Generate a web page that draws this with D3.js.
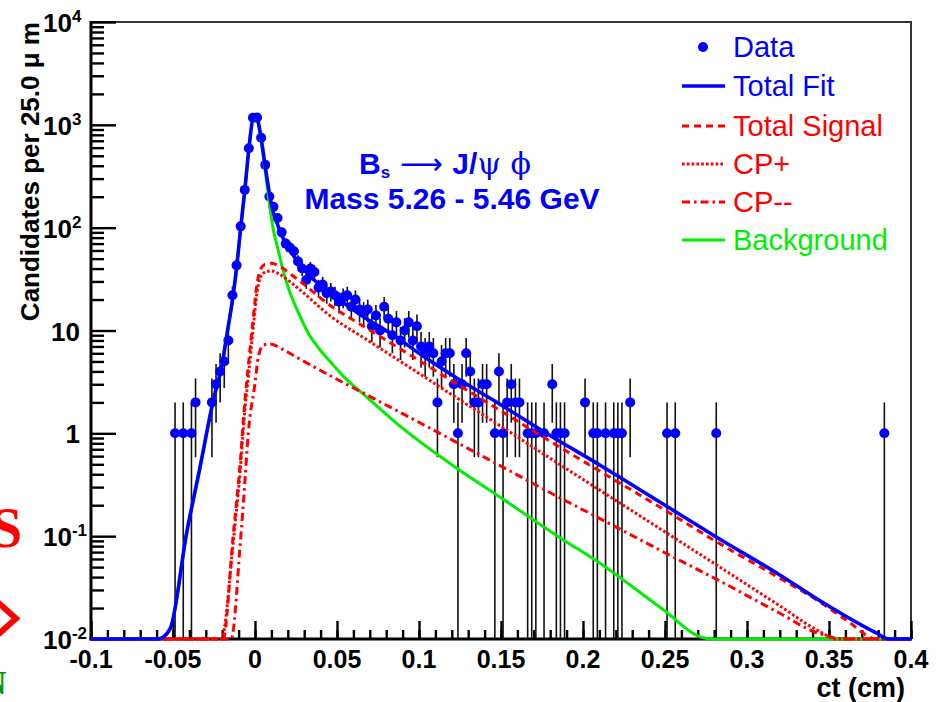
<!DOCTYPE html>
<html>
<head>
<meta charset="utf-8">
<script src="https://cdn.jsdelivr.net/npm/d3@7"></script>
<style>
  html, body { margin: 0; padding: 0; background: #fff; }
  svg { display: block; }
  text { font-family: "Liberation Sans", Arial, Helvetica, sans-serif; }
</style>
</head>
<body>
<svg id="chart" width="944" height="702"></svg>
<script>
// ---- Histogram: proper-time distribution, 25 um bins from -0.1 to 0.4 cm ----
const binLow = -0.1;
const binWidth = 0.0025;
const counts = [
  0,0,0,0,0,0,0,0,0,0,0,0,0,0,0,0,0,0,0,0,
  1,0,1,0,1,2,0,0,0,2,3,4,5,8,22,43,103,233,593,1170,
  1180,750,408,201,160,124,90,70,64,59,47,40,31,40,37,26,28,23,24,22,
  19,21,22,17,20,16,15,16,11,14,10,17,13,9,12,8,10,12,8,11,
  7,6,7,6,2,5,6,6,3,1,3,6,4,2,2,3,3,0,1,4,
  1,2,3,2,2,0,1,1,1,0,1,0,3,1,1,1,0,0,0,0,
  2,0,1,1,0,1,0,1,1,1,0,2,0,0,0,0,0,0,0,0,
  1,0,1,0,0,0,0,0,0,0,0,0,1,0,0,0,0,0,0,0,
  0,0,0,0,0,0,0,0,0,0,0,0,0,0,0,0,0,0,0,0,
  0,0,0,0,0,0,0,0,0,0,0,0,0,1,0,0,0,0,0,0
];

// ---- Fit components (ct in cm, candidates per bin) ----
const fitCt  = [-0.1, -0.059, -0.0518, -0.0417, -0.0335, -0.0254, -0.0203, -0.0163, -0.0137, -0.0112, -0.0087, -0.0062, -0.0037, -0.0012, 0.0004, 0.0013, 0.0037, 0.0062, 0.0088, 0.0112, 0.0137, 0.0162, 0.0203, 0.0264, 0.0325, 0.0396, 0.0468, 0.0518, 0.067, 0.0854, 0.1, 0.123, 0.15, 0.1809, 0.2104, 0.25, 0.2825, 0.32, 0.3475, 0.3791, 0.3866, 0.4];
const fitVal = [0.0001, 0.008, 0.0125, 0.107, 0.47, 2.1, 4.5, 11, 20, 41, 101, 233, 590, 1150, 1190, 1160, 745, 400, 215, 140, 108, 85, 64, 46, 35, 27.6, 22, 19.6, 13.3, 8.8, 6.0, 3.45, 1.89, 0.93, 0.49, 0.2, 0.0955, 0.042, 0.022, 0.0114, 0.0095, 0.0005];

const sigCt  = [-0.1, -0.0205, -0.0195, -0.0132, -0.0091, -0.0061, -0.0041, -0.001, 0.001, 0.003, 0.0061, 0.0102, 0.0152, 0.0264, 0.0468, 0.067, 0.0915, 0.126, 0.15, 0.1809, 0.2104, 0.25, 0.2815, 0.32, 0.3425, 0.36, 0.3795, 0.4];
const sigVal = [0.0001, 0.005, 0.01, 0.106, 0.5, 2.1, 4.5, 13.6, 26.7, 38, 44, 45, 41.8, 31, 17.1, 10.8, 6.2, 2.83, 1.65, 0.82, 0.427, 0.179, 0.088, 0.039, 0.024, 0.0155, 0.0098, 0.003];

const cpPlusCt  = [-0.1, -0.0205, -0.0132, -0.0091, -0.0061, -0.0041, -0.001, 0.001, 0.003, 0.0061, 0.0102, 0.0152, 0.0264, 0.0468, 0.067, 0.0915, 0.126, 0.15, 0.1809, 0.2104, 0.25, 0.2815, 0.32, 0.3425, 0.355, 0.4];
const cpPlusVal = [0.0001, 0.004, 0.09, 0.42, 1.75, 3.5, 11, 22, 32, 37, 38, 35, 25.6, 13.5, 8.36, 4.68, 2.06, 1.17, 0.56, 0.279, 0.11, 0.0524, 0.021, 0.0123, 0.0091, 0.001];

const cpMinusCt  = [-0.1, -0.0175, -0.0145, -0.0091, -0.0061, -0.0041, 0, 0.002, 0.0051, 0.0091, 0.0173, 0.0262, 0.0468, 0.067, 0.0915, 0.126, 0.15, 0.1809, 0.2104, 0.25, 0.2815, 0.32, 0.3425, 0.36, 0.4];
const cpMinusVal = [0.0001, 0.002, 0.01, 0.08, 0.35, 1.0, 3.05, 5.5, 7.2, 7.4, 6.5, 5.4, 3.57, 2.42, 1.51, 0.77, 0.48, 0.26, 0.148, 0.069, 0.038, 0.0178, 0.0115, 0.0083, 0.002];

const bkgCt  = [-0.1, -0.059, -0.0518, -0.0417, -0.0335, -0.0254, -0.0203, -0.0163, -0.0137, -0.0112, -0.0087, -0.0062, -0.0037, -0.0012, 0.0004, 0.0013, 0.0037, 0.0062, 0.0088, 0.0112, 0.0137, 0.0162, 0.0203, 0.0264, 0.0325, 0.0396, 0.0468, 0.0538, 0.067, 0.0864, 0.123, 0.1474, 0.188, 0.2104, 0.2287, 0.25, 0.2713, 0.28, 0.4];
const bkgVal = [0.0001, 0.008, 0.0125, 0.107, 0.47, 2.1, 4.5, 11, 20, 41, 100, 231, 585, 1135, 1170, 1130, 705, 356, 170, 95, 65, 44, 26, 15, 9.4, 6.5, 4.8, 3.6, 2.34, 1.25, 0.458, 0.252, 0.092, 0.0545, 0.0335, 0.0187, 0.0105, 0.008, 0.0001];

// ---- Axis ticks and labels ----
const xTickValues = [-0.1, -0.05, 0, 0.05, 0.1, 0.15, 0.2, 0.25, 0.3, 0.35, 0.4];
const xTickLabels = ["-0.1", "-0.05", "0", "0.05", "0.1", "0.15", "0.2", "0.25", "0.3", "0.35", "0.4"];
const yTickValues = [1e-2, 1e-1, 1, 10, 1e2, 1e3, 1e4];
const yTickBase   = ["10", "10", "1", "10", "10", "10", "10"];
const yTickExp    = ["-2", "-1", "", "", "2", "3", "4"];

const legendLabels = ["Data", "Total Fit", "Total Signal", "CP+", "CP--", "Background"];
const legendColors = ["#0000ff", "#0000ff", "#ff0000", "#ff0000", "#ff0000", "#00ee00"];

// ---- Styles of the curves ----
const BLUE = "#0000ff", RED = "#ff0000", GREEN = "#00ee00";
const styles = {
  fit:     { color: BLUE,  width: 3.6, dash: null },
  sig:     { color: RED,   width: 3,   dash: "7,5" },
  cpPlus:  { color: RED,   width: 3,   dash: "2.6,2.2" },
  cpMinus: { color: RED,   width: 3,   dash: "8,4,2.5,4" },
  bkg:     { color: GREEN, width: 3,   dash: null }
};

const svg = d3.select("#chart");
const x = d3.scaleLinear().domain([-0.1, 0.4]).range([91, 911]);
const y = d3.scaleLog().domain([0.01, 1e4]).range([639, 22]).clamp(true);
const [X0, X1] = x.range();
const [Y0, Y1] = y.range();

svg.append("rect").attr("width", 944).attr("height", 702).attr("fill", "#fff");

// fragments of neighbouring slide content on the left edge
svg.append("text").attr("x", -9).attr("y", 547)
  .style("font-family", "'Liberation Serif', 'Times New Roman', serif")
  .style("font-weight", "bold").style("font-size", "56px")
  .attr("fill", "#ff0000").text("S");
svg.append("path").attr("d", "M-8,597 L16,618.5 L-8,640")
  .attr("fill", "none").attr("stroke", "#ff0000").attr("stroke-width", 6);
svg.append("text").attr("x", -18).attr("y", 694)
  .style("font-family", "'Liberation Serif', 'Times New Roman', serif")
  .style("font-weight", "bold").style("font-size", "34px")
  .attr("fill", "#009a00").text("N");

// ---- frame ----
svg.append("rect").attr("x", X0).attr("y", Y1).attr("width", X1 - X0).attr("height", Y0 - Y1)
  .attr("fill", "none").attr("stroke", "#333").attr("stroke-width", 2);

// ---- y ticks (inside frame) ----
const yMinor = [];
for (let d = -2; d < 4; d++) for (let k = 2; k <= 9; k++) yMinor.push(k * Math.pow(10, d));
function styleAxis(g) {
  g.select(".domain").remove();
  g.selectAll(".tick line").attr("stroke", "#000").attr("stroke-width", 2.4);
  g.selectAll(".tick text").remove();
}
svg.append("g").attr("transform", `translate(${X0},0)`)
  .call(d3.axisRight(y).tickValues(yMinor).tickSize(13).tickFormat(""))
  .call(styleAxis);
svg.append("g").attr("transform", `translate(${X0},0)`)
  .call(d3.axisRight(y).tickValues(yTickValues).tickSize(25).tickFormat(""))
  .call(styleAxis);

// ---- x ticks (pointing up) ----
const xMinor = d3.range(-10, 41).map(i => i / 100);
svg.append("g").attr("transform", `translate(0,${Y0})`)
  .call(d3.axisTop(x).tickValues(xMinor).tickSize(9).tickFormat(""))
  .call(styleAxis);
svg.append("g").attr("transform", `translate(0,${Y0})`)
  .call(d3.axisTop(x).tickValues(xTickValues).tickSize(18).tickFormat(""))
  .call(styleAxis);

// axis lines
svg.append("line").attr("x1", X0).attr("x2", X0).attr("y1", Y1 - 1).attr("y2", Y0 + 1.5)
  .attr("stroke", "#000").attr("stroke-width", 3);
svg.append("line").attr("x1", X0 - 1.5).attr("x2", X1 + 1).attr("y1", Y0).attr("y2", Y0)
  .attr("stroke", "#000").attr("stroke-width", 3);

// ---- tick labels ----
svg.append("g").selectAll("text").data(xTickValues).join("text")
  .attr("x", d => x(d)).attr("y", 668)
  .attr("text-anchor", "middle")
  .style("font-size", "25px").style("font-weight", "bold")
  .text((d, i) => xTickLabels[i]);

yTickValues.forEach((v, i) => {
  const t = svg.append("text")
    .attr("y", y(v) + 10)
    .style("font-size", "26px").style("font-weight", "bold");
  if (yTickExp[i]) {
    t.attr("x", 43).attr("text-anchor", "start");
    t.append("tspan").text(yTickBase[i]);
    t.append("tspan").attr("dy", -10).style("font-size", "17px").text(yTickExp[i]);
  } else {
    t.attr("x", 80).attr("text-anchor", "end").text(yTickBase[i]);
  }
});

// ---- axis titles ----
svg.append("text").attr("x", 905).attr("y", 697).attr("text-anchor", "end")
  .style("font-size", "27px").style("font-weight", "bold")
  .text("ct  (cm)");
svg.append("text").attr("transform", `translate(39,${Y1}) rotate(-90)`)
  .attr("text-anchor", "end")
  .style("font-size", "26px").style("font-weight", "bold")
  .text("Candidates per 25.0 \u03bc m");

// ---- data: error bars then markers ----
const bins = counts.map((c, i) => ({ ct: binLow + (i + 0.5) * binWidth, n: c })).filter(d => d.n > 0);
const gData = svg.append("g");
gData.selectAll("line").data(bins).join("line")
  .attr("x1", d => x(d.ct)).attr("x2", d => x(d.ct))
  .attr("y1", d => y(d.n + Math.sqrt(d.n)))
  .attr("y2", d => y(Math.max(d.n - Math.sqrt(d.n), 1e-4)))
  .attr("stroke", "#111").attr("stroke-width", 1.6);
gData.selectAll("circle").data(bins).join("circle")
  .attr("cx", d => x(d.ct)).attr("cy", d => y(d.n)).attr("r", 5)
  .attr("fill", BLUE);

// ---- fit curves ----
const line = d3.line().x(d => x(d[0])).y(d => y(d[1])).curve(d3.curveMonotoneX);
function drawCurve(cts, vals, st) {
  const pts = cts.map((c, i) => [c, vals[i]]);
  const p = svg.append("path").datum(pts).attr("d", line)
    .attr("fill", "none").attr("stroke", st.color).attr("stroke-width", st.width)
    .attr("stroke-linejoin", "round");
  if (st.dash) p.attr("stroke-dasharray", st.dash);
}
drawCurve(bkgCt, bkgVal, styles.bkg);
drawCurve(cpMinusCt, cpMinusVal, styles.cpMinus);
drawCurve(cpPlusCt, cpPlusVal, styles.cpPlus);
drawCurve(sigCt, sigVal, styles.sig);
drawCurve(fitCt, fitVal, styles.fit);

// ---- decay label ----
const ann = svg.append("text").attr("x", 445).attr("y", 174).attr("text-anchor", "middle")
  .attr("fill", BLUE).style("font-size", "30px").style("font-weight", "bold");
ann.append("tspan").text("B");
ann.append("tspan").attr("dy", 4).style("font-size", "17px").text("s");
ann.append("tspan").attr("dy", -4).style("font-weight", "normal")
  .style("font-family", "'DejaVu Sans', sans-serif").style("font-size", "30px").text(" \u27f6 ");
ann.append("tspan").text("J/");
ann.append("tspan").style("font-weight", "normal")
  .style("font-family", "'DejaVu Serif', serif").text("\u03c8 \u03d5");
svg.append("text").attr("x", 452).attr("y", 209).attr("text-anchor", "middle")
  .attr("fill", BLUE).style("font-size", "30px").style("font-weight", "bold")
  .text("Mass 5.26 - 5.46 GeV");

// ---- legend ----
const legendKeys = ["dot", "fit", "sig", "cpPlus", "cpMinus", "bkg"];
const legendY = [47, 86, 126, 164, 202, 240];
const gLeg = svg.append("g");
legendLabels.forEach((lab, i) => {
  const ly = legendY[i];
  const key = legendKeys[i];
  if (key === "dot") {
    gLeg.append("circle").attr("cx", 703).attr("cy", ly).attr("r", 5).attr("fill", BLUE);
  } else {
    const st = styles[key];
    const l = gLeg.append("line").attr("x1", 682).attr("x2", 725).attr("y1", ly).attr("y2", ly)
      .attr("stroke", st.color).attr("stroke-width", st.width);
    if (st.dash) l.attr("stroke-dasharray", st.dash);
  }
  gLeg.append("text").attr("x", 733).attr("y", ly + 10)
    .attr("fill", legendColors[i]).style("font-size", "29px").text(lab);
});
</script>
</body>
</html>
